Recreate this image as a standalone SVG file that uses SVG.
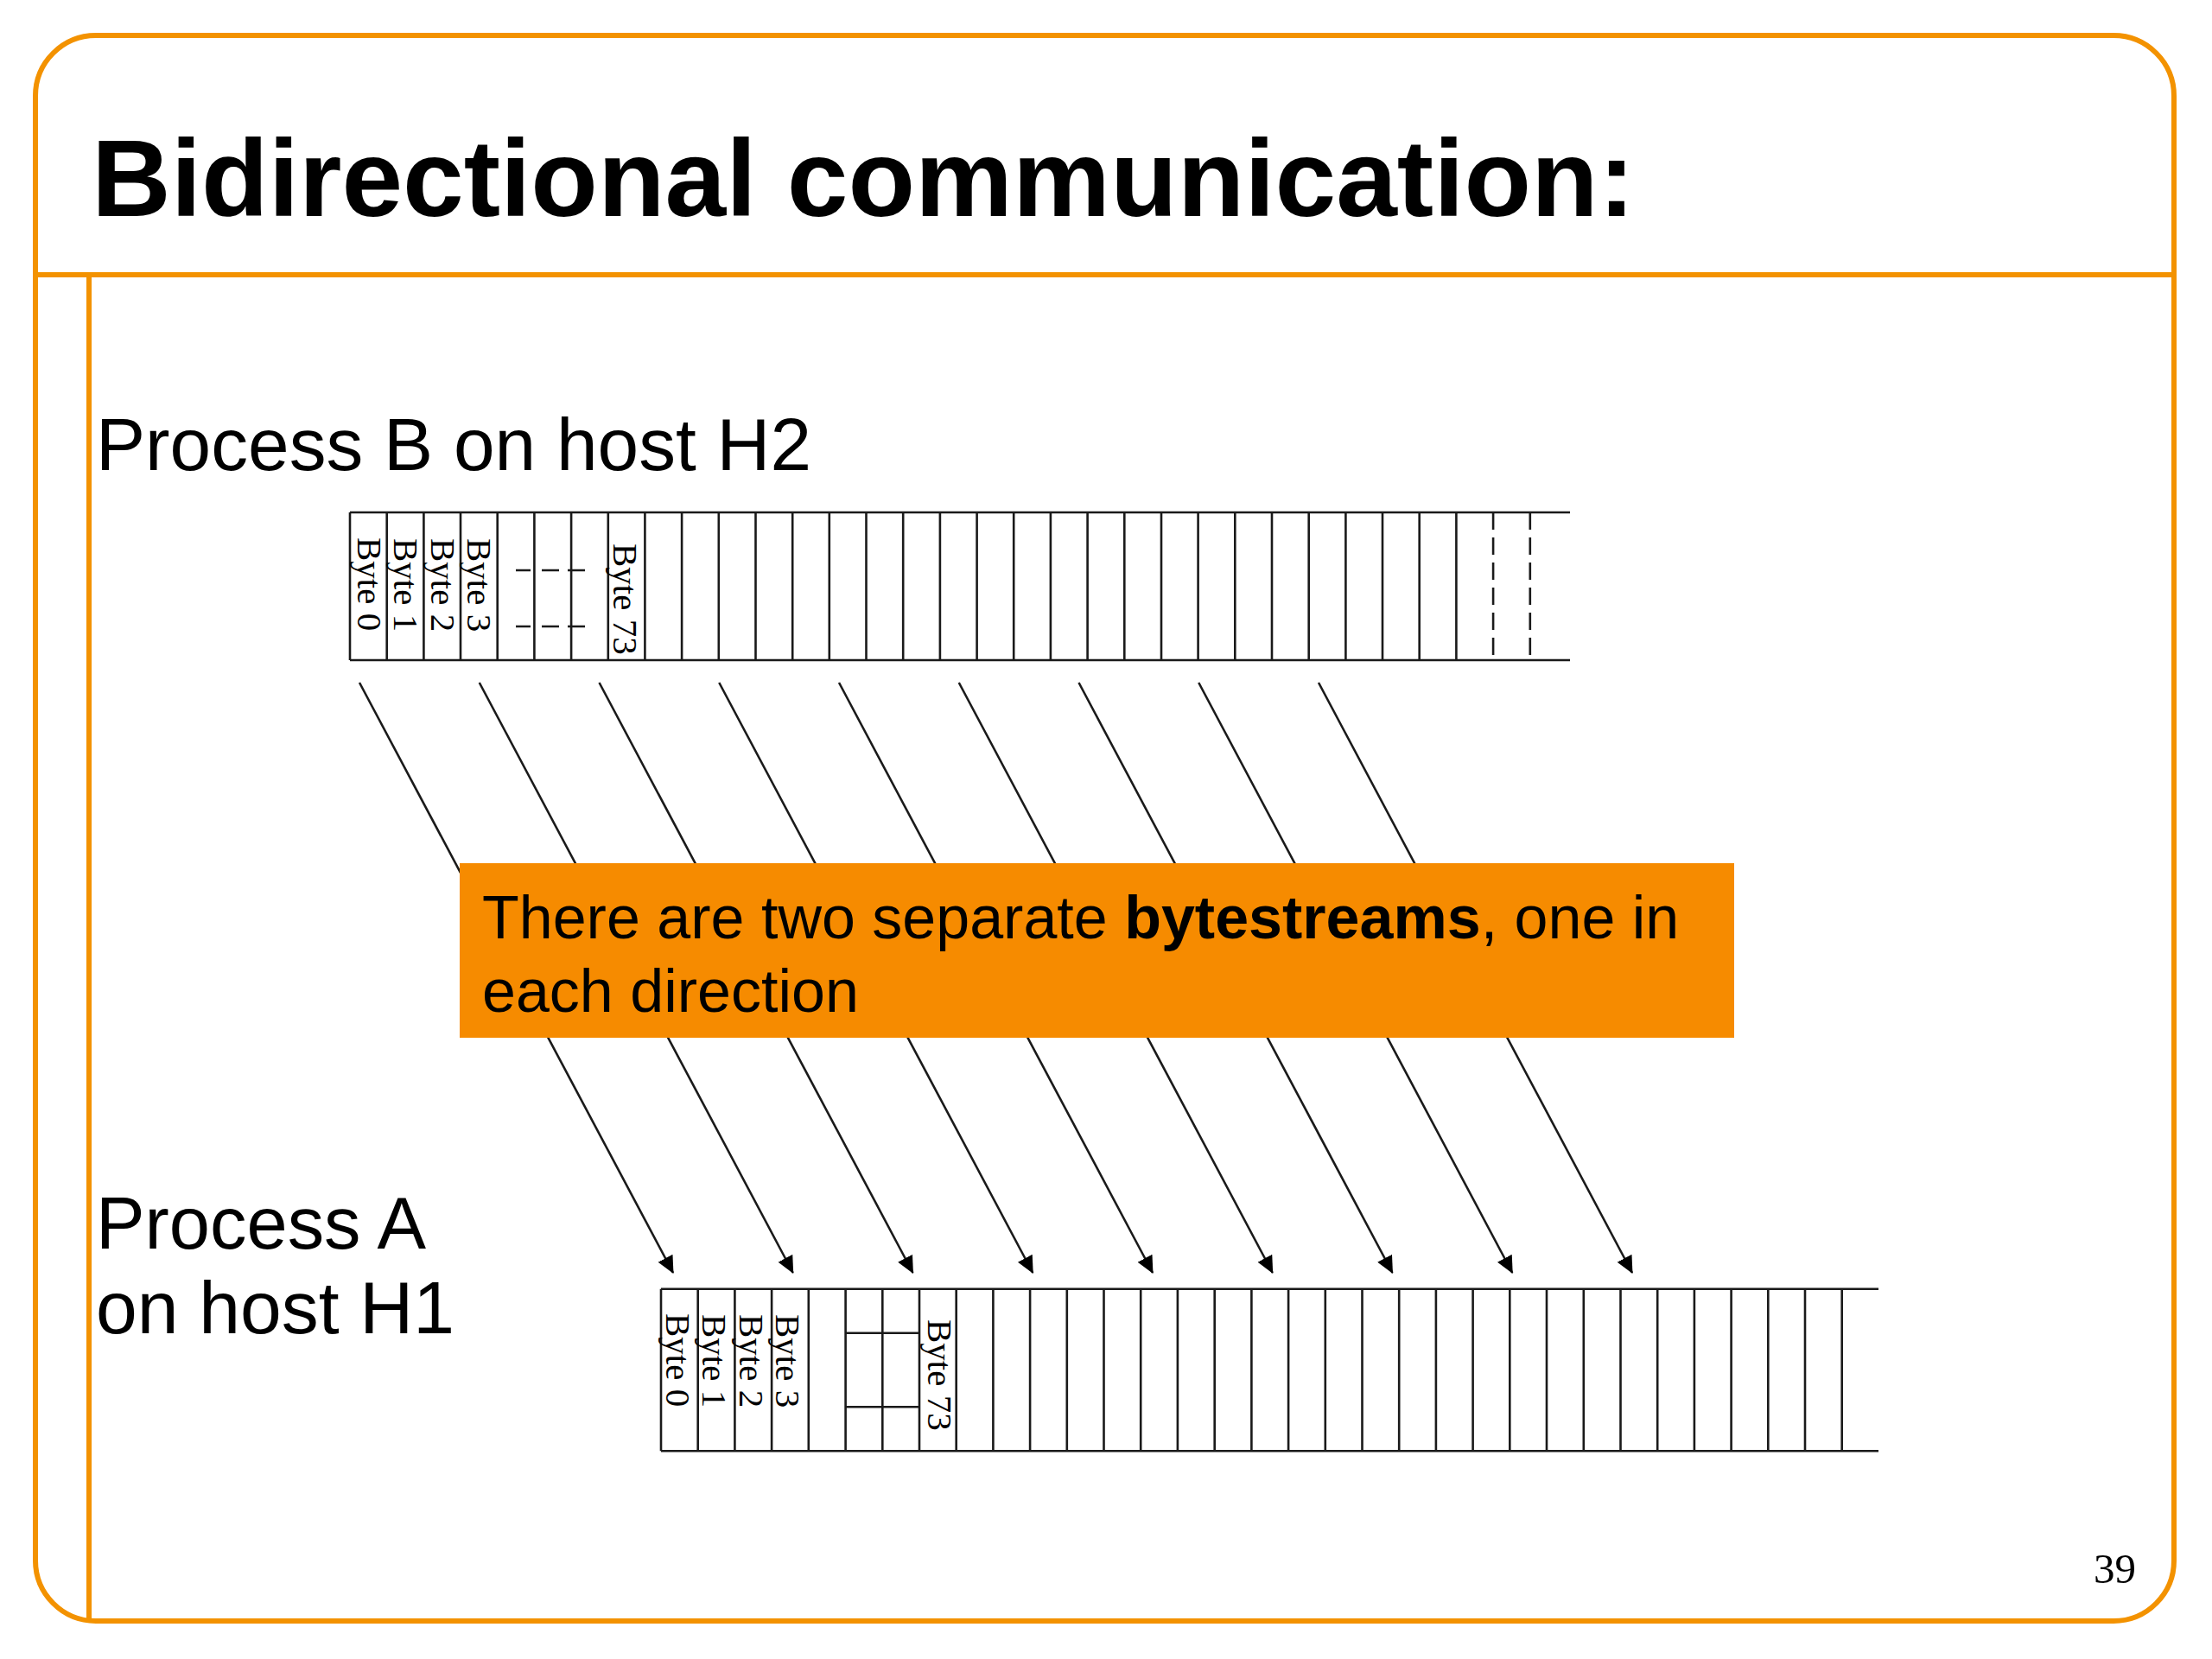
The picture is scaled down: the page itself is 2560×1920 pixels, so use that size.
<svg xmlns="http://www.w3.org/2000/svg" width="2560" height="1920" viewBox="0 0 2560 1920">
<style>
.frame{fill:none;stroke:#F39200;stroke-width:6}
.grid{fill:none;stroke:#1a1a1a;stroke-width:2.6}
.dash{fill:none;stroke:#1a1a1a;stroke-width:2.6;stroke-dasharray:20 9}
.byte{font-family:"Liberation Serif","Times New Roman",serif;font-size:41px;fill:#000}
.proc{font-family:"Liberation Sans",Arial,sans-serif;font-size:86px;fill:#000}
.note{font-family:"Liberation Sans",Arial,sans-serif;font-size:70px;fill:#000}
.arrow{stroke:#1a1a1a;stroke-width:2.6;fill:none;marker-end:url(#ah)}
</style>
<defs>
<marker id="ah" viewBox="0 0 20 19" refX="19" refY="9.5" markerWidth="20" markerHeight="19" markerUnits="userSpaceOnUse" orient="auto">
<path d="M0,0 L20,9.5 L0,19 z" fill="#000"/>
</marker>
</defs>
<rect width="2560" height="1920" fill="#fff"/>
<g id="frame">
<rect class="frame" x="41" y="41" width="2475" height="1835" rx="70" ry="70"/>
<line class="frame" x1="41" y1="318" x2="2516" y2="318"/>
<line class="frame" x1="103" y1="318" x2="103" y2="1876" stroke-width="5"/>
</g>
<g id="title">
<text x="106" y="250" font-family="'Liberation Sans',Arial,sans-serif" font-weight="bold" font-size="127" fill="#000" textLength="1786" lengthAdjust="spacingAndGlyphs">Bidirectional communication:</text>
</g>
<g id="label-process-b">
<text class="proc" x="111" y="544" textLength="828" lengthAdjust="spacingAndGlyphs">Process B on host H2</text>
</g>
<g id="buffer-b">
<path class="grid" d="M405,593H1817M405,764H1817"/>
<path class="grid" d="M405,593V764M447.7,593V764M490.4,593V764M533,593V764M575.7,593V764M618.4,593V764M661.1,593V764M703.8,593V764M746.4,593V764M789.1,593V764M831.8,593V764M874.5,593V764M917.2,593V764M959.8,593V764M1002.5,593V764M1045.2,593V764M1087.9,593V764M1130.6,593V764M1173.2,593V764M1215.9,593V764M1258.6,593V764M1301.3,593V764M1344,593V764M1386.6,593V764M1429.3,593V764M1472,593V764M1514.7,593V764M1557.4,593V764M1600,593V764M1642.7,593V764M1685.4,593V764"/>
<path class="dash" d="M1728.1,593V764M1770.8,593V764"/>
<path class="grid" d="M597,660H614M627,660H647M657,660H677M597,725H614M627,725H647M657,725H677"/>
<text class="byte" transform="translate(414,622) rotate(90)">Byte 0</text>
<text class="byte" transform="translate(456,623) rotate(90)">Byte 1</text>
<text class="byte" transform="translate(499,623) rotate(90)">Byte 2</text>
<text class="byte" transform="translate(541,623) rotate(90)">Byte 3</text>
<text class="byte" transform="translate(710,629) rotate(90)">Byte 73</text>
</g>
<g id="connectors">
<line class="arrow" x1="416" y1="790" x2="779" y2="1473"/>
<line class="arrow" x1="554.75" y1="790" x2="917.75" y2="1473"/>
<line class="arrow" x1="693.5" y1="790" x2="1056.5" y2="1473"/>
<line class="arrow" x1="832.25" y1="790" x2="1195.25" y2="1473"/>
<line class="arrow" x1="971" y1="790" x2="1334" y2="1473"/>
<line class="arrow" x1="1109.75" y1="790" x2="1472.75" y2="1473"/>
<line class="arrow" x1="1248.5" y1="790" x2="1611.5" y2="1473"/>
<line class="arrow" x1="1387.25" y1="790" x2="1750.25" y2="1473"/>
<line class="arrow" x1="1526" y1="790" x2="1889" y2="1473"/>
</g>
<g id="note">
<rect x="532" y="999" width="1475" height="202" fill="#F68B00"/>
<text class="note" x="558" y="1086">There are two separate <tspan font-weight="bold">bytestreams</tspan>, one in</text>
<text class="note" x="558" y="1171">each direction</text>
</g>
<g id="label-process-a">
<text class="proc" x="111" y="1445" textLength="382" lengthAdjust="spacingAndGlyphs">Process A</text>
<text class="proc" x="111" y="1543" textLength="415" lengthAdjust="spacingAndGlyphs">on host H1</text>
</g>
<g id="buffer-a">
<path class="grid" d="M765,1491.7H2174M765,1679.3H2174"/>
<path class="grid" d="M765,1491.7V1679.3M807.7,1491.7V1679.3M850.4,1491.7V1679.3M893.1,1491.7V1679.3M935.8,1491.7V1679.3M978.6,1491.7V1679.3M1021.3,1491.7V1679.3M1064,1491.7V1679.3M1106.7,1491.7V1679.3M1149.4,1491.7V1679.3M1192.1,1491.7V1679.3M1234.8,1491.7V1679.3M1277.5,1491.7V1679.3M1320.2,1491.7V1679.3M1362.9,1491.7V1679.3M1405.7,1491.7V1679.3M1448.4,1491.7V1679.3M1491.1,1491.7V1679.3M1533.8,1491.7V1679.3M1576.5,1491.7V1679.3M1619.2,1491.7V1679.3M1661.9,1491.7V1679.3M1704.6,1491.7V1679.3M1747.3,1491.7V1679.3M1790,1491.7V1679.3M1832.8,1491.7V1679.3M1875.5,1491.7V1679.3M1918.2,1491.7V1679.3M1960.9,1491.7V1679.3M2003.6,1491.7V1679.3M2046.3,1491.7V1679.3M2089,1491.7V1679.3M2131.7,1491.7V1679.3"/>
<path class="grid" d="M978.6,1542.7H1064M978.6,1628.3H1064"/>
<text class="byte" transform="translate(771,1520) rotate(90)">Byte 0</text>
<text class="byte" transform="translate(813,1521) rotate(90)">Byte 1</text>
<text class="byte" transform="translate(856,1521) rotate(90)">Byte 2</text>
<text class="byte" transform="translate(898,1521) rotate(90)">Byte 3</text>
<text class="byte" transform="translate(1074,1527) rotate(90)">Byte 73</text>
</g>
<g id="page-number">
<text x="2423" y="1832" font-family="'Liberation Serif','Times New Roman',serif" font-size="49" fill="#000">39</text>
</g>
</svg>
